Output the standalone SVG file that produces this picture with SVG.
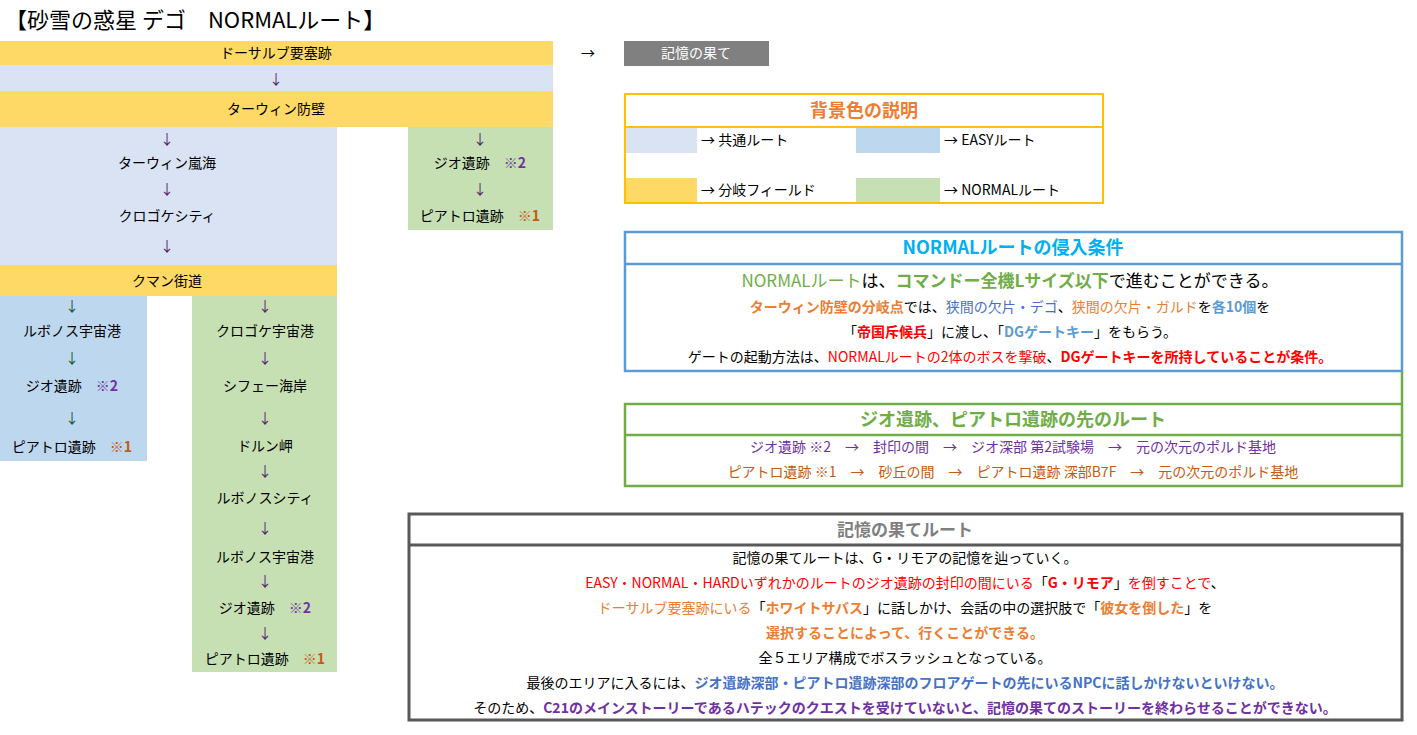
<svg xmlns="http://www.w3.org/2000/svg" width="1417" height="735" viewBox="0 0 1417 735">
<style>
text{font-family:"Noto Sans CJK JP","Liberation Sans",sans-serif;font-size:14px;fill:#000;dominant-baseline:central}
.c{text-anchor:middle}
.ap{fill:#5b1f6e}.ag{fill:#1e5b2a}
.lav{fill:#dae3f3}.yel{fill:#ffd966}.grn{fill:#c6e0b4}.blu{fill:#bdd7ee}
.b{font-weight:bold}
.pu{fill:#7030a0}.or{fill:#c55a11}.og{fill:#ed7d31}.rd{fill:#ff0000}.bl{fill:#5b9bd5}.gr{fill:#70ad47}.ind{fill:#4472c4}
</style>
<rect width="1417" height="735" fill="#fff"/>
<text x="5" y="18" style="font-size:22px">【砂雪の惑星 デゴ　NORMALルート】</text>
<g id="field">
<rect class="yel" x="0" y="41" width="553" height="24"/>
<rect class="lav" x="0" y="65" width="553" height="26"/>
<rect class="yel" x="0" y="91" width="553" height="36"/>
<rect class="lav" x="0" y="127" width="337" height="138"/>
<rect class="grn" x="408" y="127" width="145" height="103"/>
<rect class="yel" x="0" y="265" width="337" height="31"/>
<rect class="blu" x="0" y="296" width="147" height="165"/>
<rect class="grn" x="192" y="296" width="145" height="376"/>
<text class="c" x="276" y="52">ドーサルブ要塞跡</text>
<text class="c ap" x="276" y="78">↓</text>
<text class="c" x="276" y="108">ターウィン防壁</text>
<text class="c ap" x="167" y="138">↓</text>
<text class="c" x="167" y="162">ターウィン嵐海</text>
<text class="c ap" x="167" y="188">↓</text>
<text class="c" x="167" y="215">クロゴケシティ</text>
<text class="c ap" x="167" y="245">↓</text>
<text class="c ap" x="480" y="138">↓</text>
<text class="c" x="480" y="162">ジオ遺跡　<tspan class="pu b">※2</tspan></text>
<text class="c ap" x="480" y="188">↓</text>
<text class="c" x="480" y="215">ピアトロ遺跡　<tspan class="or b">※1</tspan></text>
<text class="c" x="167" y="280">クマン街道</text>
<text class="c ag" x="72" y="305">↓</text>
<text class="c" x="72" y="330">ルボノス宇宙港</text>
<text class="c ag" x="72" y="357">↓</text>
<text class="c" x="72" y="385">ジオ遺跡　<tspan class="pu b">※2</tspan></text>
<text class="c ag" x="72" y="417">↓</text>
<text class="c" x="72" y="446">ピアトロ遺跡　<tspan class="or b">※1</tspan></text>
<text class="c ap" x="265" y="305">↓</text>
<text class="c" x="265" y="330">クロゴケ宇宙港</text>
<text class="c ap" x="265" y="357">↓</text>
<text class="c" x="265" y="385">シフェー海岸</text>
<text class="c ap" x="265" y="417">↓</text>
<text class="c" x="265" y="445">ドルン岬</text>
<text class="c ap" x="265" y="470">↓</text>
<text class="c" x="265" y="497">ルボノスシティ</text>
<text class="c ap" x="265" y="527">↓</text>
<text class="c" x="265" y="556">ルボノス宇宙港</text>
<text class="c ap" x="265" y="580">↓</text>
<text class="c" x="265" y="607">ジオ遺跡　<tspan class="pu b">※2</tspan></text>
<text class="c ap" x="265" y="632">↓</text>
<text class="c" x="265" y="658">ピアトロ遺跡　<tspan class="or b">※1</tspan></text>
</g>
<g id="connectors"><text class="c" x="588" y="52">→</text></g>
<g id="memory-end"><rect x="624" y="41" width="145" height="25" fill="#808080"/><text class="c" x="696" y="52" style="fill:#fff">記憶の果て</text></g>
<g id="legend">
<rect x="625" y="94" width="478" height="109" fill="#fff" stroke="#ffc000" stroke-width="2"/>
<line x1="625" y1="127" x2="1103" y2="127" stroke="#ffc000" stroke-width="2"/>
<text class="c b og" x="864" y="109" style="font-size:18px">背景色の説明</text>
<rect class="lav" x="626" y="128" width="71" height="25"/>
<rect class="blu" x="856" y="128" width="84" height="25"/>
<rect class="yel" x="626" y="178" width="71" height="24"/>
<rect class="grn" x="856" y="178" width="84" height="24"/>
<text x="701" y="139">→ 共通ルート</text>
<text x="944" y="139">→ EASYルート</text>
<text x="701" y="189">→ 分岐フィールド</text>
<text x="944" y="189">→ NORMALルート</text>
</g>
<line x1="1402" y1="372" x2="1402" y2="403" stroke="#70ad47" stroke-width="2.5"/>
<g id="normal-cond">
<rect x="625" y="232" width="777" height="139" fill="#fff" stroke="#5b9bd5" stroke-width="2.5"/>
<line x1="625" y1="264" x2="1402" y2="264" stroke="#5b9bd5" stroke-width="2.5"/>
<text class="c b" x="1013" y="246" style="font-size:18px;fill:#00b0f0">NORMALルートの侵入条件</text>
<text class="c" x="1010" y="279" style="font-size:17px"><tspan class="gr">NORMALルート</tspan>は、<tspan class="gr b">コマンドー全機Lサイズ以下</tspan>で進むことができる。</text>
<text class="c" x="1010" y="306"><tspan class="og b">ターウィン防壁の分岐点</tspan>では、<tspan class="ind">狭間の欠片・デゴ</tspan>、<tspan class="og">狭間の欠片・ガルド</tspan>を<tspan class="bl b">各10個</tspan>を</text>
<text class="c" x="1010" y="331">「<tspan class="rd b">帝国斥候兵</tspan>」に渡し、「<tspan class="bl b">DGゲートキー</tspan>」をもらう。</text>
<text class="c" x="1010" y="356">ゲートの起動方法は、<tspan class="rd">NORMALルートの2体のボスを撃破</tspan>、<tspan class="rd b">DGゲートキーを所持していることが条件。</tspan></text>
</g>
<g id="after-route">
<rect x="625" y="404" width="777" height="82" fill="#fff" stroke="#70ad47" stroke-width="2.5"/>
<line x1="625" y1="435" x2="1402" y2="435" stroke="#70ad47" stroke-width="2.5"/>
<text class="c b gr" x="1013" y="418" style="font-size:18px">ジオ遺跡、ピアトロ遺跡の先のルート</text>
<text class="c pu" x="1013" y="446">ジオ遺跡 ※2　→　封印の間　→　ジオ深部 第2試験場　→　元の次元のポルド基地</text>
<text class="c or" x="1013" y="471">ピアトロ遺跡 ※1　→　砂丘の間　→　ピアトロ遺跡 深部B7F　→　元の次元のポルド基地</text>
</g>
<g id="memory-route">
<rect x="409" y="514" width="993" height="206" fill="#fff" stroke="#595959" stroke-width="3"/>
<line x1="409" y1="545" x2="1402" y2="545" stroke="#595959" stroke-width="3"/>
<text class="c b" x="905" y="528" style="font-size:17px;fill:#7f7f7f">記憶の果てルート</text>
<text class="c" x="905" y="557">記憶の果てルートは、G・リモアの記憶を辿っていく。</text>
<text class="c" x="905" y="582"><tspan class="rd">EASY・NORMAL・HARDいずれかのルートのジオ遺跡の封印の間にいる</tspan>「<tspan class="rd b">G・リモア</tspan>」<tspan class="rd">を倒すことで</tspan>、</text>
<text class="c" x="905" y="607"><tspan class="og">ドーサルブ要塞跡にいる</tspan>「<tspan class="og b">ホワイトサバス</tspan>」に話しかけ、会話の中の選択肢で「<tspan class="og b">彼女を倒した</tspan>」を</text>
<text class="c b og" x="905" y="632">選択することによって、行くことができる。</text>
<text class="c" x="905" y="657">全５エリア構成でボスラッシュとなっている。</text>
<text class="c" x="905" y="682">最後のエリアに入るには、<tspan class="ind b">ジオ遺跡深部・ピアトロ遺跡深部のフロアゲートの先にいるNPCに話しかけないといけない。</tspan></text>
<text class="c" x="905" y="707">そのため、<tspan class="pu b">C21のメインストーリーであるハテックのクエストを受けていないと、記憶の果てのストーリーを終わらせることができない。</tspan></text>
</g>
</svg>
